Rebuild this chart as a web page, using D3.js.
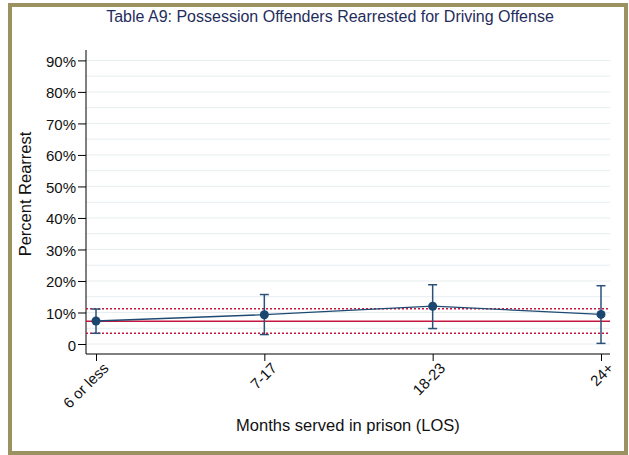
<!DOCTYPE html>
<html>
<head>
<meta charset="utf-8">
<script src="https://cdn.jsdelivr.net/npm/d3@7"></script>
<style>
  html, body { margin: 0; padding: 0; background: #fff; }
  svg { display: block; font-family: "Liberation Sans", Arial, Helvetica, sans-serif; }
</style>
</head>
<body>
<svg id="chart" width="629" height="455"></svg>
<script>
// Length of stay groups and rearrest rates with 95% confidence limits
const categories = ["6 or less", "7-17", "18-23", "24+"];
const rates = [0.073, 0.093, 0.120, 0.094];
const lower = [0.034, 0.030, 0.049, 0.002];
const upper = [0.111, 0.157, 0.188, 0.185];

// Overall rate and its confidence band
const overall = 0.072;
const overallLower = 0.034;
const overallUpper = 0.112;

const yTicks = [0, 0.1, 0.2, 0.3, 0.4, 0.5, 0.6, 0.7, 0.8, 0.9];
const gridValues = d3.range(0, 0.951, 0.05);

const svg = d3.select("#chart");

// outer frame
svg.append("rect")
  .attr("x", 10).attr("y", 5)
  .attr("width", 616).attr("height", 448)
  .attr("fill", "#fff")
  .attr("stroke", "#9c9160")
  .attr("stroke-width", 4);

const plot = { left: 86, right: 610, top: 50, bottom: 354 };

const x = d3.scalePoint()
  .domain(categories)
  .range([96, 601]);

const y = d3.scaleLinear()
  .domain([-0.0317, 0.933])
  .range([plot.bottom, plot.top]);

// title
svg.append("text")
  .attr("x", 330).attr("y", 22)
  .attr("text-anchor", "middle")
  .attr("font-size", 16)
  .attr("fill", "#1f2d5c")
  .text("Table A9: Possession Offenders Rearrested for Driving Offense");

// gridlines
svg.append("g")
  .selectAll("line")
  .data(gridValues.filter(v => y(v) >= plot.top))
  .join("line")
  .attr("x1", plot.left).attr("x2", plot.right)
  .attr("y1", d => y(d)).attr("y2", d => y(d))
  .attr("stroke", "#e6eef0")
  .attr("stroke-width", 1);

// y axis
const yAxis = d3.axisLeft(y)
  .tickValues(yTicks)
  .tickSize(8)
  .tickPadding(2)
  .tickFormat(d => d === 0 ? "0" : d3.format(".0%")(d));

const gy = svg.append("g")
  .attr("transform", `translate(${plot.left},0)`)
  .call(yAxis);
gy.select(".domain").attr("stroke", "#000").attr("d", `M0,${plot.top}V${plot.bottom}`);
gy.selectAll(".tick line").attr("stroke", "#000");
gy.selectAll(".tick text")
  .attr("font-size", 15)
  .attr("fill", "#111")
  .attr("dy", "0.4em")
  .attr("font-family", "'Liberation Sans', Arial, sans-serif");

// x axis
const xAxis = d3.axisBottom(x).tickSize(7).tickPadding(3);
const gx = svg.append("g")
  .attr("transform", `translate(0,${plot.bottom})`)
  .call(xAxis);
gx.select(".domain").attr("stroke", "#000").attr("d", `M${plot.left},0H${plot.right}`);
gx.selectAll(".tick line").attr("stroke", "#000");
gx.selectAll(".tick text")
  .attr("font-size", 15)
  .attr("fill", "#111")
  .attr("font-family", "'Liberation Sans', Arial, sans-serif")
  .attr("text-anchor", "end")
  .attr("dy", 0)
  .attr("transform", "translate(6,8) rotate(-45)");

// overall rate reference lines
const refG = svg.append("g");
refG.append("line")
  .attr("x1", plot.left).attr("x2", plot.right)
  .attr("y1", y(overall)).attr("y2", y(overall))
  .attr("stroke", "#c8173f").attr("stroke-width", 1.5);
[overallLower, overallUpper].forEach(v => {
  refG.append("line")
    .attr("x1", plot.left).attr("x2", plot.right)
    .attr("y1", y(v)).attr("y2", y(v))
    .attr("stroke", "#c8173f").attr("stroke-width", 1.5)
    .attr("stroke-dasharray", "2,2");
});

// connecting line
const data = categories.map((c, i) => ({ c, r: rates[i], lo: lower[i], hi: upper[i] }));
svg.append("path")
  .datum(data)
  .attr("fill", "none")
  .attr("stroke", "#1f4a73")
  .attr("stroke-width", 1.3)
  .attr("d", d3.line().x(d => x(d.c)).y(d => y(d.r)));

// confidence intervals
const ci = svg.append("g").attr("stroke", "#2b5178").attr("stroke-width", 1.5);
ci.selectAll("line.v").data(data).join("line")
  .attr("x1", d => x(d.c)).attr("x2", d => x(d.c))
  .attr("y1", d => y(d.lo)).attr("y2", d => y(d.hi));
ci.selectAll("line.t").data(data).join("line")
  .attr("x1", d => x(d.c) - 4.5).attr("x2", d => x(d.c) + 4.5)
  .attr("y1", d => y(d.hi)).attr("y2", d => y(d.hi));
ci.selectAll("line.b").data(data).join("line")
  .attr("x1", d => x(d.c) - 4.5).attr("x2", d => x(d.c) + 4.5)
  .attr("y1", d => y(d.lo)).attr("y2", d => y(d.lo));

// points
svg.append("g").selectAll("circle").data(data).join("circle")
  .attr("cx", d => x(d.c)).attr("cy", d => y(d.r))
  .attr("r", 4.5)
  .attr("fill", "#1b4670");

// axis titles
svg.append("text")
  .attr("transform", `translate(31,194) rotate(-90)`)
  .attr("text-anchor", "middle")
  .attr("font-size", 16.5)
  .attr("fill", "#111")
  .text("Percent Rearrest");

svg.append("text")
  .attr("x", 348).attr("y", 431)
  .attr("text-anchor", "middle")
  .attr("font-size", 16.5)
  .attr("fill", "#111")
  .text("Months served in prison (LOS)");
</script>
</body>
</html>
